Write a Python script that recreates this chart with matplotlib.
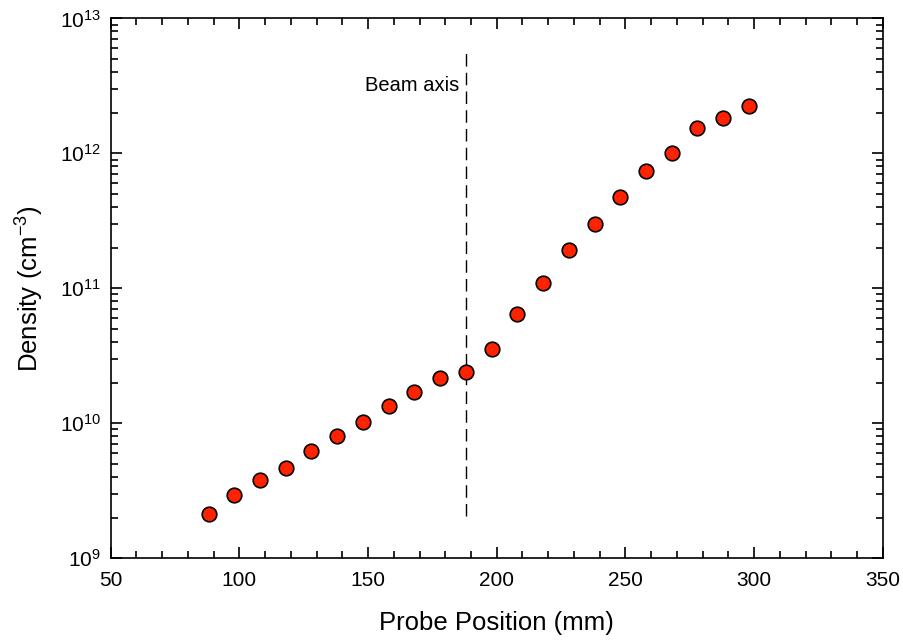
"""
density vs probe position, log scale
"""

import matplotlib
matplotlib.use("Agg")
import matplotlib.pyplot as plt
from matplotlib.ticker import LogLocator, MultipleLocator, FuncFormatter
import numpy as np

# data
probe_position = [88, 98, 108, 118, 128, 138, 148, 158, 168, 178, 188,
                  198, 208, 218, 228, 238, 248, 258, 268, 278, 288, 298]
density = [2.12e9, 2.93e9, 3.8e9, 4.7e9, 6.2e9, 8.0e9, 1.02e10, 1.34e10,
           1.70e10, 2.17e10, 2.40e10, 3.56e10, 6.5e10, 1.10e11, 1.93e11,
           3.0e11, 4.78e11, 7.45e11, 1.01e12, 1.53e12, 1.84e12, 2.23e12]
beam_axis_x = 188
beam_axis_span = [2.05e9, 5.8e12]

plt.rcParams['font.family'] = ['Liberation Sans', 'DejaVu Sans']
plt.rcParams['mathtext.fontset'] = 'custom'
plt.rcParams['mathtext.rm'] = 'Liberation Sans'
plt.rcParams['mathtext.default'] = 'regular'

fig = plt.figure(figsize=(9.04, 6.42), dpi=100)
ax = fig.add_axes([0.1225, 0.1304, 0.854, 0.841])

ax.plot(probe_position, density, linestyle='none', marker='o', markersize=10.5,
        markerfacecolor='#ff2200', markeredgecolor='black', markeredgewidth=1.2,
        zorder=3)

# beam axis marker
ax.plot([beam_axis_x, beam_axis_x], beam_axis_span, color='black', linewidth=1,
        dashes=(9, 4.5))
ax.text(beam_axis_x - 2.5, 3.2e12, 'Beam axis', ha='right', va='center', fontsize=14.5)

ax.set_yscale('log')
ax.set_xlim(50, 350)
ax.set_ylim(1e9, 1e13)

ax.xaxis.set_major_locator(MultipleLocator(50))
ax.xaxis.set_minor_locator(MultipleLocator(10))
ax.yaxis.set_major_locator(LogLocator(base=10, numticks=10))
ax.yaxis.set_minor_locator(LogLocator(base=10, subs=np.arange(2, 10), numticks=20))
ax.yaxis.set_major_formatter(FuncFormatter(lambda v, p: '$10^{%d}$' % round(np.log10(v))))

ax.tick_params(which='both', direction='in', top=True, right=True, width=1.2)
ax.tick_params(which='major', length=8)
ax.tick_params(which='minor', length=5)
ax.tick_params(axis='x', which='major', labelsize=15, pad=9)
ax.tick_params(axis='y', which='major', labelsize=15, pad=7)
for spine in ax.spines.values():
    spine.set_linewidth(1.2)

ax.set_xlabel('Probe Position (mm)', fontsize=18.5, labelpad=15)
ax.set_ylabel('Density (cm$^{-3}$)', fontsize=18.5, labelpad=10)

fig.savefig('out.png', dpi=100)
